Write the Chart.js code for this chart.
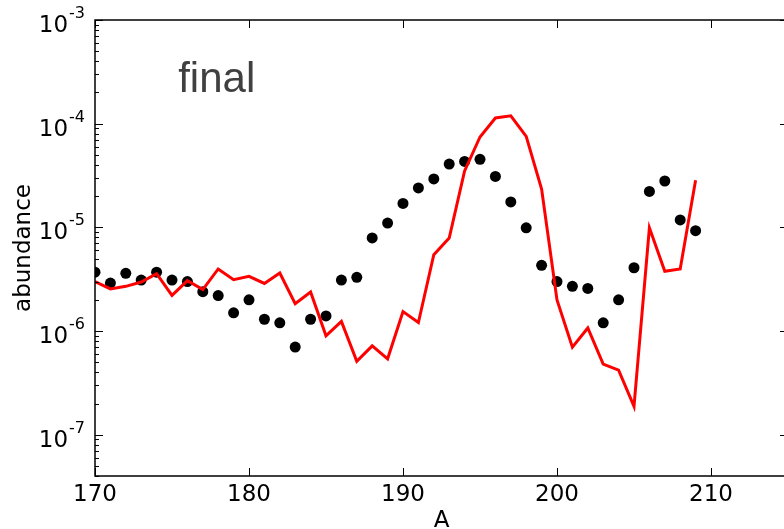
<!DOCTYPE html>
<html>
<head>
<meta charset="utf-8">
<script src="https://cdn.jsdelivr.net/npm/chart.js@4/dist/chart.umd.min.js"></script>
<style>
  html, body { margin: 0; padding: 0; background: #fff; overflow: hidden; }
  #wrap { width: 810px; height: 529px; }
</style>
</head>
<body>
<div id="wrap"><canvas id="chart-main" width="810" height="529"></canvas></div>
<script>
const massNumbers = [170, 171, 172, 173, 174, 175, 176, 177, 178, 179,
  180, 181, 182, 183, 184, 185, 186, 187, 188, 189,
  190, 191, 192, 193, 194, 195, 196, 197, 198, 199,
  200, 201, 202, 203, 204, 205, 206, 207, 208, 209];

// black dots
const observed = [3.7e-6, 2.9e-6, 3.6e-6, 3.1e-6, 3.7e-6, 3.1e-6, 3.0e-6, 2.4e-6, 2.2e-6, 1.5e-6,
  2.0e-6, 1.3e-6, 1.2e-6, 7.0e-7, 1.3e-6, 1.4e-6, 3.1e-6, 3.3e-6, 7.9e-6, 1.1e-5,
  1.7e-5, 2.4e-5, 2.93e-5, 4.08e-5, 4.33e-5, 4.53e-5, 3.1e-5, 1.76e-5, 9.9e-6, 4.3e-6,
  3.0e-6, 2.7e-6, 2.58e-6, 1.2e-6, 2.0e-6, 4.08e-6, 2.22e-5, 2.8e-5, 1.18e-5, 9.3e-6];

// red line
const finalAbund = [3.0e-6, 2.55e-6, 2.7e-6, 2.97e-6, 3.58e-6, 2.21e-6, 3.06e-6, 2.51e-6, 3.97e-6, 3.13e-6,
  3.37e-6, 2.88e-6, 3.63e-6, 1.84e-6, 2.38e-6, 9.0e-7, 1.24e-6, 5.1e-7, 7.2e-7, 5.4e-7,
  1.54e-6, 1.21e-6, 5.46e-6, 7.9e-6, 3.5e-5, 7.45e-5, 1.135e-4, 1.19e-4, 7.55e-5, 2.34e-5,
  2.0e-6, 7.0e-7, 1.07e-6, 4.8e-7, 4.2e-7, 1.88e-7, 9.9e-6, 3.77e-6, 3.97e-6, 2.84e-5];

const xTicks = [170, 180, 190, 200, 210];
const yExponents = [-7, -6, -5, -4, -3];

const FONT = '"DejaVu Sans", sans-serif';

function pts(vals) {
  return massNumbers.map((a, i) => ({ x: a, y: vals[i] }));
}

// frame, inward ticks, superscript tick labels, the "final" label
const framePlugin = {
  id: "frame",
  afterDraw(chart) {
    const { ctx, chartArea: a, scales } = chart;
    const xs = scales.x, ys = scales.y;
    ctx.save();
    ctx.strokeStyle = "#000";
    ctx.lineWidth = 1.5;
    ctx.strokeRect(a.left, a.top, a.right - a.left, a.bottom - a.top);

    ctx.lineWidth = 1;
    ctx.beginPath();
    xTicks.forEach((v) => {
      const px = Math.round(xs.getPixelForValue(v)) + 0.5;
      ctx.moveTo(px, a.bottom); ctx.lineTo(px, a.bottom - 8);
      ctx.moveTo(px, a.top); ctx.lineTo(px, a.top + 8);
    });
    for (let e = -8; e <= -3; e++) {
      for (let m = 1; m <= 9; m++) {
        const v = m * Math.pow(10, e);
        if (v < ys.min * 0.9999 || v > ys.max * 1.0001) continue;
        const py = Math.round(ys.getPixelForValue(v)) + 0.5;
        const len = m === 1 ? 8 : 4;
        ctx.moveTo(a.left, py); ctx.lineTo(a.left + len, py);
        ctx.moveTo(a.right, py); ctx.lineTo(a.right - len, py);
      }
    }
    ctx.stroke();

    // y tick labels 10^n
    ctx.fillStyle = "#000";
    ctx.textBaseline = "alphabetic";
    yExponents.forEach((e) => {
      const py = ys.getPixelForValue(Math.pow(10, e));
      ctx.font = "23px " + FONT;
      const exp = "-" + Math.abs(e);
      const baseW = ctx.measureText("10").width;
      ctx.font = "16px " + FONT;
      const expW = ctx.measureText(exp).width;
      const right = a.left - 11;
      const x0 = right - expW - baseW;
      ctx.font = "23px " + FONT;
      ctx.fillText("10", x0, py + 12);
      ctx.font = "16px " + FONT;
      ctx.fillText(exp, x0 + baseW + 1, py - 2);
    });

    ctx.font = '42px "Liberation Sans", Arial, sans-serif';
    ctx.fillStyle = "#404040";
    ctx.fillText("final", a.left + 0.12 * (a.right - a.left), a.top + 0.158 * (a.bottom - a.top));
    ctx.restore();
  },
};

const chart = new Chart(document.getElementById("chart-main"), {
  type: "scatter",
  data: {
    datasets: [
      {
        label: "final",
        data: pts(finalAbund),
        showLine: true,
        borderColor: "#ff0000",
        backgroundColor: "#ff0000",
        borderWidth: 3,
        pointRadius: 0,
        tension: 0,
        clip: 0,
      },
      {
        label: "observed",
        data: pts(observed),
        showLine: false,
        pointRadius: 5.5,
        pointBorderWidth: 0,
        backgroundColor: "#000",
        borderColor: "#000",
        clip: 0,
      },
    ],
  },
  options: {
    responsive: false,
    animation: false,
    devicePixelRatio: 1,
    layout: { padding: { top: 20, right: 22, left: 0, bottom: 0 } },
    plugins: { legend: { display: false }, tooltip: { enabled: false } },
    scales: {
      x: {
        type: "linear",
        min: 170,
        max: 215,
        grid: { display: false, drawTicks: false },
        border: { display: false },
        ticks: {
          stepSize: 10,
          includeBounds: false,
          padding: 5,
          color: "#000",
          font: { family: FONT, size: 23 },
          maxRotation: 0,
        },
        title: {
          display: true,
          text: "A",
          color: "#000",
          font: { family: FONT, size: 23 },
          padding: { top: 0, bottom: -6 },
        },
        afterFit(scale) { scale.height = 53; },
      },
      y: {
        type: "logarithmic",
        min: 4e-8,
        max: 1e-3,
        grid: { display: false, drawTicks: false },
        border: { display: false },
        ticks: { display: false },
        title: {
          display: true,
          text: "abundance",
          color: "#000",
          font: { family: FONT, size: 23 },
          padding: { top: 10, bottom: 0 },
        },
        afterFit(scale) { scale.width = 95; },
      },
    },
  },
  plugins: [framePlugin],
});
</script>
</body>
</html>
